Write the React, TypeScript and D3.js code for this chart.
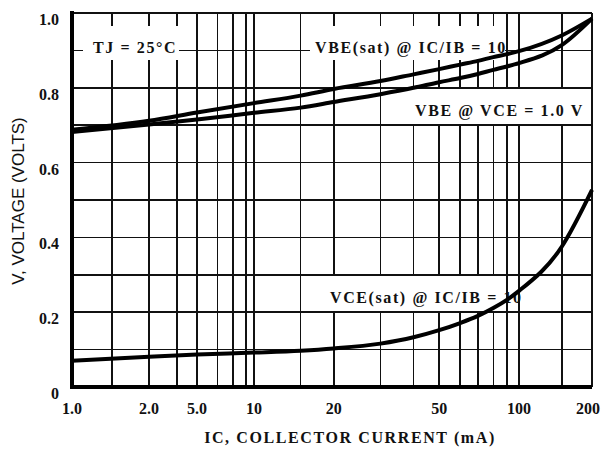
import React from 'react';
import * as d3 from 'd3';

// Collector current (mA) sample points
const IC = [1, 2, 5, 10, 15, 20, 30, 40, 50, 60, 70, 80, 90, 100, 150, 200];
// VBE(sat) @ IC/IB = 10
const VBE_SAT = [0.688, 0.712, 0.734, 0.759, 0.779, 0.797, 0.818, 0.836, 0.85, 0.862, 0.872, 0.882, 0.89, 0.898, 0.94, 0.985];
// VBE @ VCE = 1.0 V
const VBE_ON = [0.682, 0.702, 0.715, 0.733, 0.747, 0.762, 0.783, 0.8, 0.815, 0.826, 0.837, 0.848, 0.857, 0.866, 0.914, 0.985];
// VCE(sat) @ IC/IB = 10
const VCE_SAT = [0.07, 0.081, 0.087, 0.092, 0.097, 0.103, 0.116, 0.133, 0.152, 0.171, 0.19, 0.211, 0.233, 0.257, 0.375, 0.527];

const X_TICKS = [1, 2, 5, 10, 20, 50, 100, 200];
const X_TICK_LABELS = ['1.0', '2.0', '5.0', '10', '20', '50', '100', '200'];
const X_GRID = [1.43, 2, 3.4, 5, 6.4, 7.75, 9.07, 10, 15, 20, 30, 40, 50, 60, 70, 80, 90, 100, 150];
const Y_TICKS = [0, 0.2, 0.4, 0.6, 0.8, 1.0];
const Y_TICK_LABELS = ['0', '0.2', '0.4', '0.6', '0.8', '1.0'];
const Y_GRID = [0.1, 0.2, 0.3, 0.4, 0.5, 0.6, 0.7, 0.8, 0.9];

const W = 602;
const H = 450;
const LEFT = 72;
const RIGHT = 592;
const TOP = 13;
const BOTTOM = 387;

// The printed current axis is logarithmic per segment, with a compressed first decade.
const X_BREAKS = [1, 2, 5, 10, 100, 200];
const X_BREAK_OFFSETS = [0, 77, 125, 182, 447, 520];
const xLin = d3
  .scaleLinear()
  .domain(X_BREAKS.map(Math.log10))
  .range(X_BREAK_OFFSETS.map((d) => LEFT + d));
const x = (v: number) => xLin(Math.log10(v));
const y = d3.scaleLinear().domain([0, 1]).range([BOTTOM, TOP]);

const line = d3
  .line<[number, number]>()
  .x((d) => x(d[0]))
  .y((d) => y(d[1]))
  .curve(d3.curveMonotoneX);

const series = [VBE_SAT, VBE_ON, VCE_SAT].map((vals) =>
  line(IC.map((c, i) => [c, vals[i]] as [number, number]))
);

const serif = '"Liberation Serif", "Times New Roman", serif';
const sans = '"Liberation Sans", Arial, sans-serif';

// Annotation labels sit on white panels that mask the grid behind them.
const NOTES = [
  { text: 'TJ = 25°C', x0: 83, x1: 179, y0: 26, y1: 60, tx: 93, ty: 53 },
  { text: 'VBE(sat) @ IC/IB = 10', x0: 310, x1: 505, y0: 26, y1: 60, tx: 315, ty: 53 },
  { text: 'VBE @ VCE = 1.0 V', x0: 405, x1: 591, y0: 89, y1: 124, tx: 415, ty: 116 },
  { text: 'VCE(sat) @ IC/IB = 10', x0: 324, x1: 505, y0: 276, y1: 311, tx: 330, ty: 303 },
];

export default function App() {
  return (
    <svg
      width={W}
      height={H}
      style={{ position: 'absolute', left: 0, top: 0, background: '#fff' }}
    >
      <rect x={0} y={0} width={W} height={H} fill="#fff" />
      {/* grid */}
      <g stroke="#111" strokeWidth={1.6} shapeRendering="crispEdges">
        {X_GRID.map((v) => (
          <line key={'gx' + v} x1={x(v)} x2={x(v)} y1={TOP} y2={BOTTOM} />
        ))}
        {Y_GRID.map((v) => (
          <line key={'gy' + v} x1={LEFT} x2={RIGHT} y1={y(v)} y2={y(v)} />
        ))}
        <line x1={LEFT} x2={RIGHT} y1={y(1)} y2={y(1)} />
        <line x1={RIGHT} x2={RIGHT} y1={TOP} y2={BOTTOM} />
      </g>
      {/* note panels */}
      {NOTES.map((n) => (
        <rect key={'r' + n.text} x={n.x0} y={n.y0} width={n.x1 - n.x0} height={n.y1 - n.y0} fill="#fff" />
      ))}
      {NOTES.map((n) => (
        <text
          key={'t' + n.text}
          x={n.tx}
          y={n.ty}
          fontFamily={serif}
          fontWeight="bold"
          fontSize={16}
          letterSpacing={1.6}
          fill="#111"
        >
          {n.text}
        </text>
      ))}
      {/* axes */}
      <line x1={LEFT} x2={LEFT} y1={TOP - 2} y2={BOTTOM + 2} stroke="#000" strokeWidth={4} />
      <line x1={LEFT - 2} x2={RIGHT} y1={BOTTOM} y2={BOTTOM} stroke="#000" strokeWidth={4} />
      {/* curves */}
      {series.map((d, i) => (
        <path key={'s' + i} d={d ?? ''} fill="none" stroke="#000" strokeWidth={4} strokeLinejoin="round" />
      ))}
      {/* tick labels */}
      {Y_TICKS.map((v, i) => (
        <text
          key={'yt' + v}
          x={59}
          y={y(v) + 12}
          textAnchor="end"
          fontFamily={serif}
          fontWeight="bold"
          fontSize={16}
          fill="#111"
        >
          {Y_TICK_LABELS[i]}
        </text>
      ))}
      {X_TICKS.map((v, i) => (
        <text
          key={'xt' + v}
          x={Math.min(x(v), W - 14)}
          y={414}
          textAnchor="middle"
          fontFamily={serif}
          fontWeight="bold"
          fontSize={16}
          fill="#111"
        >
          {X_TICK_LABELS[i]}
        </text>
      ))}
      {/* axis titles */}
      <text
        x={350}
        y={443}
        textAnchor="middle"
        fontFamily={serif}
        fontWeight="bold"
        fontSize={16}
        letterSpacing={1.6}
        fill="#111"
      >
        IC, COLLECTOR CURRENT (mA)
      </text>
      <text
        transform="translate(24,201) rotate(-90)"
        textAnchor="middle"
        fontFamily={sans}
        fontSize={17}
        fill="#111"
      >
        V, VOLTAGE (VOLTS)
      </text>
    </svg>
  );
}
